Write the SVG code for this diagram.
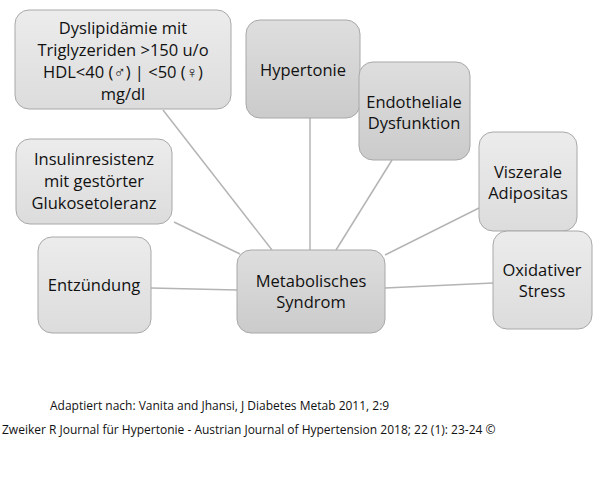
<svg xmlns="http://www.w3.org/2000/svg" width="600" height="479" viewBox="0 0 600 479">
<defs>
<linearGradient id="g" x1="0" y1="0" x2="0" y2="1"><stop offset="0" stop-color="#ececec"/><stop offset="1" stop-color="#dcdcdc"/></linearGradient>
<linearGradient id="g2" x1="0" y1="0" x2="0" y2="1"><stop offset="0" stop-color="#dedede"/><stop offset="1" stop-color="#cbcbcb"/></linearGradient>
</defs>
<style>
.n rect{stroke:#a8a8a8;stroke-width:1;fill:url(#g)}
.d rect{fill:url(#g2)}
text{font-family:"Open Sans","Liberation Sans",sans-serif;font-size:16.5px;fill:#111;text-anchor:middle}
line{stroke:#b4b4b4;stroke-width:1.5}
.f{font-size:12px;text-anchor:start}
</style>
<rect width="600" height="479" fill="#fff"/>
<g id="connectors">
<line x1="163" y1="110" x2="272" y2="250"/>
<line x1="174" y1="222" x2="240" y2="254"/>
<line x1="151" y1="288" x2="237" y2="290"/>
<line x1="310" y1="118" x2="310" y2="250"/>
<line x1="392" y1="160" x2="336" y2="250"/>
<line x1="479" y1="208" x2="385" y2="255"/>
<line x1="493" y1="283" x2="385" y2="288"/>
</g>
<g id="dys" class="n"><rect x="15" y="10" width="216" height="99" rx="14"/>
<text x="123" y="34">Dyslipidämie mit</text><text x="123" y="56">Triglyzeriden &gt;150 u/o</text><text x="123" y="78">HDL&lt;40 (♂) | &lt;50 (♀)</text><text x="123" y="100">mg/dl</text></g>
<g id="hyp" class="n d"><rect x="246" y="20" width="114" height="98" rx="14"/><text x="303" y="76">Hypertonie</text></g>
<g id="endo" class="n d"><rect x="359" y="62" width="111" height="98" rx="14"/><text x="414" y="108">Endotheliale</text><text x="414" y="129">Dysfunktion</text></g>
<g id="visz" class="n"><rect x="479" y="132" width="98" height="99" rx="14"/><text x="528" y="178">Viszerale</text><text x="528" y="199">Adipositas</text></g>
<g id="ins" class="n"><rect x="16" y="139" width="156" height="85" rx="14"/><text x="94" y="165">Insulinresistenz</text><text x="94" y="187">mit gestörter</text><text x="94" y="209">Glukosetoleranz</text></g>
<g id="ent" class="n"><rect x="38" y="237" width="113" height="96" rx="14"/><text x="94" y="291">Entzündung</text></g>
<g id="met" class="n d"><rect x="237" y="250" width="148" height="83" rx="14"/><text x="311" y="287">Metabolisches</text><text x="311" y="308">Syndrom</text></g>
<g id="oxi" class="n"><rect x="493" y="231" width="99" height="98" rx="14"/><text x="542" y="276">Oxidativer</text><text x="542" y="297">Stress</text></g>
<text class="f" x="50" y="410">Adaptiert nach: Vanita and Jhansi, J Diabetes Metab 2011, 2:9</text>
<text class="f" x="2" y="434">Zweiker R Journal für Hypertonie - Austrian Journal of Hypertension 2018; 22 (1): 23-24 ©</text>
</svg>
